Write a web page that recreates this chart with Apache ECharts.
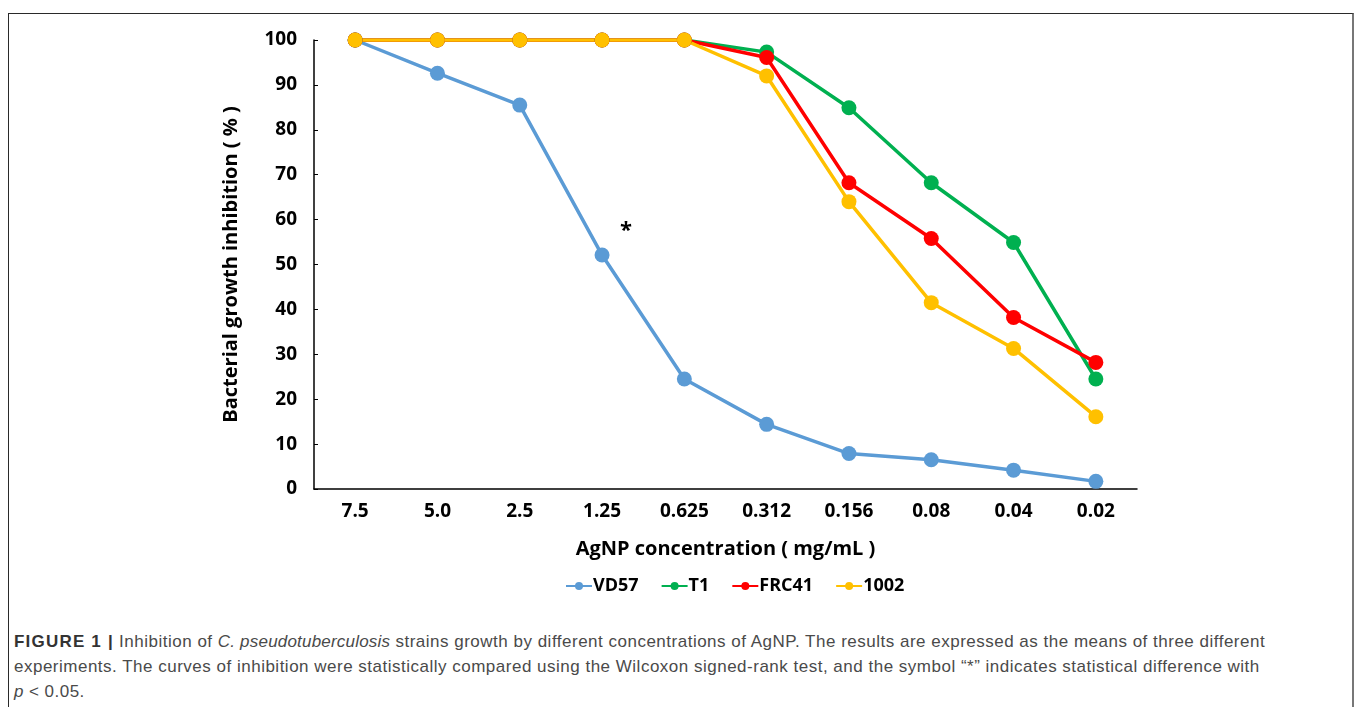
<!DOCTYPE html>
<html>
<head>
<meta charset="utf-8">
<script src="https://cdn.jsdelivr.net/npm/echarts@6/dist/echarts.min.js"></script>
<style>
  html, body { margin: 0; padding: 0; background: #fff; }
  .frame {
    position: absolute; left: 8px; top: 13px; width: 1346px; height: 720px;
    border: 1px solid #2a2a2a; border-right: 2px solid #777; box-sizing: border-box;
  }
  #chart { position: absolute; left: 0; top: 0; width: 1358px; height: 610px; }
  .caption {
    position: absolute; left: 14px; top: 629px; width: 1330px; white-space: nowrap;
    font-family: "Liberation Sans", Arial, sans-serif;
    font-size: 17px; letter-spacing: 0.5px; line-height: 25px; color: #4a4a4a;
  }
  .caption b { color: #333; letter-spacing: 1.2px; }
  .caption i { letter-spacing: 0.2px; }
</style>
</head>
<body>
<div class="frame"></div>
<div id="chart"></div>
<div class="caption">
  <b>FIGURE 1 |</b> Inhibition of <i>C. pseudotuberculosis</i> strains growth by different concentrations of AgNP. The results are expressed as the means of three different<br>
  experiments. The curves of inhibition were statistically compared using the Wilcoxon signed-rank test, and the symbol “*” indicates statistical difference with<br>
  <i>p</i> &lt; 0.05.
</div>
<script>
// concentrations (mg/mL), highest first like the figure
var concentrations = ['7.5', '5.0', '2.5', '1.25', '0.625', '0.312', '0.156', '0.08', '0.04', '0.02'];
var yTicks = [0, 100, 10]; // min, max, step

// inhibition (%)
var vd57  = [100, 92.6, 85.5, 52.1, 24.5, 14.4, 7.9, 6.5, 4.2, 1.7];
var t1    = [100, 100, 100, 100, 100, 97.3, 84.9, 68.2, 54.9, 24.5];
var frc41 = [100, 100, 100, 100, 100, 96.1, 68.2, 55.8, 38.2, 28.2];
var s1002 = [100, 100, 100, 100, 100, 92.0, 64.0, 41.5, 31.3, 16.1];

var font = '"Open Sans", "DejaVu Sans", sans-serif';

function line(name, data, color) {
    return {
        name: name,
        type: 'line',
        data: data,
        symbol: 'circle',
        symbolSize: 15,
        lineStyle: { width: 3.5, color: color },
        itemStyle: { color: color },
        z: 2
    }
}

var myChart = echarts.init(document.getElementById('chart'))

var vdSeries = line('VD57', vd57, '#5b9bd5')
// significance mark above 1.25
vdSeries.markPoint = {
    symbol: 'circle',
    symbolSize: 1,
    itemStyle: { color: 'transparent' },
    label: {
        show: true, formatter: '*', offset: [24, -24],
        color: '#000', fontSize: 22, fontWeight: 'bold', fontFamily: font
    },
    data: [{ coord: ['1.25', vd57[3]] }]
}

myChart.setOption({
    animation: false,
    grid: { left: 314, right: 221, top: 40, bottom: 121 },
    legend: {
        bottom: 10,
        left: 560,
        itemWidth: 26,
        itemHeight: 10,
        itemGap: 22,
        textStyle: { fontFamily: font, fontSize: 18, fontWeight: 'bold', color: '#000', padding: [0, 0, 0, -4] },
        data: ['VD57', 'T1', 'FRC41', '1002']
    },
    xAxis: {
        type: 'category',
        data: concentrations,
        boundaryGap: true,
        name: 'AgNP concentration ( mg/mL )',
        nameLocation: 'middle',
        nameGap: 50,
        nameTextStyle: { fontFamily: font, fontSize: 20, fontWeight: 'bold', color: '#000' },
        axisLine: { lineStyle: { color: '#000', width: 1.5 } },
        axisTick: { inside: true, length: 4, alignWithLabel: true, lineStyle: { color: '#000' } },
        axisLabel: { margin: 13, fontFamily: font, fontSize: 19, fontWeight: 'bold', color: '#000' }
    },
    yAxis: {
        type: 'value',
        min: yTicks[0],
        max: yTicks[1],
        interval: yTicks[2],
        name: 'Bacterial growth inhibition ( % )',
        nameLocation: 'middle',
        nameGap: 73,
        nameTextStyle: { fontFamily: font, fontSize: 20, fontWeight: 'bold', color: '#000' },
        splitLine: { show: false },
        axisLine: { show: true, lineStyle: { color: '#000', width: 1.5 } },
        axisTick: { show: true, inside: true, length: 4, lineStyle: { color: '#000' } },
        axisLabel: { margin: 17, fontFamily: font, fontSize: 19, fontWeight: 'bold', color: '#000' }
    },
    series: [
        vdSeries,
        line('T1', t1, '#00b050'),
        line('FRC41', frc41, '#ff0000'),
        line('1002', s1002, '#ffc000')
    ]
})
</script>
</body>
</html>
